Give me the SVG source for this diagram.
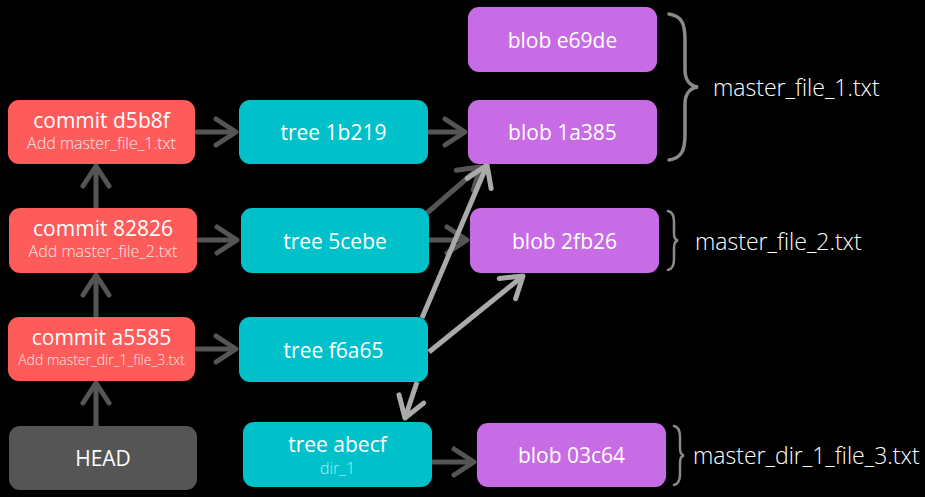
<svg xmlns="http://www.w3.org/2000/svg" width="925" height="497" viewBox="0 0 925 497">
<defs>
<style>
.bg{fill:#000}
.commit{fill:#fe5b5b}
.tree{fill:#00c1ca}
.blob{fill:#c86ce5}
.head{fill:#555555}
.t{font-family:"Open Sans","DejaVu Sans",sans-serif;fill:#ffffff;text-anchor:middle;dominant-baseline:central;font-size:21px}
.sub{font-family:"Open Sans","DejaVu Sans",sans-serif;fill:#ffe6e6;text-anchor:middle;dominant-baseline:central;font-size:16px;font-weight:300}
.subt{font-family:"Open Sans","DejaVu Sans",sans-serif;fill:#a8f0f3;text-anchor:middle;dominant-baseline:central;font-size:16px;font-weight:300}
.lbl{font-family:"Open Sans","DejaVu Sans",sans-serif;fill:#ffffff;dominant-baseline:central;font-size:23px;font-weight:300}
.dk{stroke:#555555;stroke-width:5;fill:none;marker-end:url(#ad)}
.lt{stroke:#aaaaaa;stroke-width:5;fill:none;marker-end:url(#al)}
.brace{fill:none;stroke:#8a8a8a;stroke-width:2.5;stroke-linecap:round}
</style>
<marker id="ad" markerUnits="userSpaceOnUse" viewBox="-26 -16 30 32" refX="0" refY="0" markerWidth="30" markerHeight="32" orient="auto">
<path d="M-20,-13 L0,0 L-20,13" fill="none" stroke="#555555" stroke-width="5" stroke-linecap="round" stroke-linejoin="round"/>
</marker>
<marker id="al" markerUnits="userSpaceOnUse" viewBox="-26 -16 30 32" refX="0" refY="0" markerWidth="30" markerHeight="32" orient="auto">
<path d="M-20,-13 L0,0 L-20,13" fill="none" stroke="#aaaaaa" stroke-width="5" stroke-linecap="round" stroke-linejoin="round"/>
</marker>
</defs>
<rect class="bg" x="0" y="0" width="925" height="497"/>

<g id="connectors">
<line class="dk" x1="195" y1="132" x2="236" y2="132"/>
<line class="dk" x1="197" y1="240" x2="237" y2="240"/>
<line class="dk" x1="195" y1="349" x2="236" y2="349"/>
<line class="dk" x1="96" y1="208" x2="96" y2="166"/>
<line class="dk" x1="96" y1="317" x2="96" y2="275"/>
<line class="dk" x1="96" y1="426" x2="96" y2="383"/>
<line class="dk" x1="428" y1="132" x2="465" y2="132"/>
<line class="dk" x1="429" y1="240" x2="467" y2="240"/>
<line class="dk" x1="427" y1="213" x2="480" y2="167"/>
<line class="dk" x1="432" y1="462" x2="474" y2="462"/>
<line class="lt" x1="422" y1="318" x2="487" y2="165"/>
<line class="lt" x1="429" y1="352" x2="523" y2="276"/>
<line class="lt" x1="417" y1="382" x2="405" y2="418"/>
</g>

<g id="commit-d5b8f"><rect class="commit" x="8" y="100" width="187" height="64" rx="11"/><text class="t" x="101.5" y="120">commit d5b8f</text><text class="sub" x="101.5" y="143">Add master_file_1.txt</text></g>
<g id="commit-82826"><rect class="commit" x="9" y="208" width="188" height="65" rx="11"/><text class="t" x="103" y="228">commit 82826</text><text class="sub" x="103" y="251">Add master_file_2.txt</text></g>
<g id="commit-a5585"><rect class="commit" x="8" y="317" width="187" height="64" rx="11"/><text class="t" x="101.5" y="337">commit a5585</text><text class="sub" x="101.5" y="359" style="font-size:14px">Add master_dir_1_file_3.txt</text></g>
<g id="head"><rect class="head" x="9" y="426" width="188" height="64" rx="11"/><text class="t" x="103" y="458">HEAD</text></g>

<g id="tree-1b219"><rect class="tree" x="239" y="100" width="189" height="64" rx="11"/><text class="t" x="333.5" y="132">tree 1b219</text></g>
<g id="tree-5cebe"><rect class="tree" x="241" y="208" width="188" height="65" rx="11"/><text class="t" x="335" y="240.5">tree 5cebe</text></g>
<g id="tree-f6a65"><rect class="tree" x="239" y="317" width="189" height="65" rx="11"/><text class="t" x="333.5" y="349.5">tree f6a65</text></g>
<g id="tree-abecf"><rect class="tree" x="243" y="422" width="189" height="65" rx="11"/><text class="t" x="337.5" y="444">tree abecf</text><text class="subt" x="337.5" y="468">dir_1</text></g>

<g id="blob-e69de"><rect class="blob" x="468" y="7" width="189" height="65" rx="11"/><text class="t" x="562.5" y="40">blob e69de</text></g>
<g id="blob-1a385"><rect class="blob" x="468" y="100" width="189" height="64" rx="11"/><text class="t" x="562.5" y="132">blob 1a385</text></g>
<g id="blob-2fb26"><rect class="blob" x="470" y="208" width="189" height="65" rx="11"/><text class="t" x="564.5" y="240.5">blob 2fb26</text></g>
<g id="blob-03c64"><rect class="blob" x="477" y="423" width="189" height="64" rx="11"/><text class="t" x="571.5" y="455">blob 03c64</text></g>

<g id="label-master_file_1">
<path class="brace" d="M669,14 C682,16 685,24 685,40 L685,70 C685,80 690,86 698,87 C690,88 685,94 685,104 L685,134 C685,150 682,158 669,160" style="stroke-width:3.5"/>
<text class="lbl" x="713" y="87">master_file_1.txt</text>
</g>
<g id="label-master_file_2">
<path class="brace" d="M668,211 C673,212 674,216 674,222 L674,233 C674,237 675,240 678,240.5 C675,241 674,244 674,248 L674,259 C674,265 673,269 668,270"/>
<text class="lbl" x="695" y="241">master_file_2.txt</text>
</g>
<g id="label-master_dir_1_file_3">
<path class="brace" d="M674,426 C679,427 680,431 680,437 L680,448 C680,452 681,455 684,455.5 C681,456 680,459 680,463 L680,474 C680,480 679,484 674,485"/>
<text class="lbl" x="693" y="455">master_dir_1_file_3.txt</text>
</g>
</svg>
